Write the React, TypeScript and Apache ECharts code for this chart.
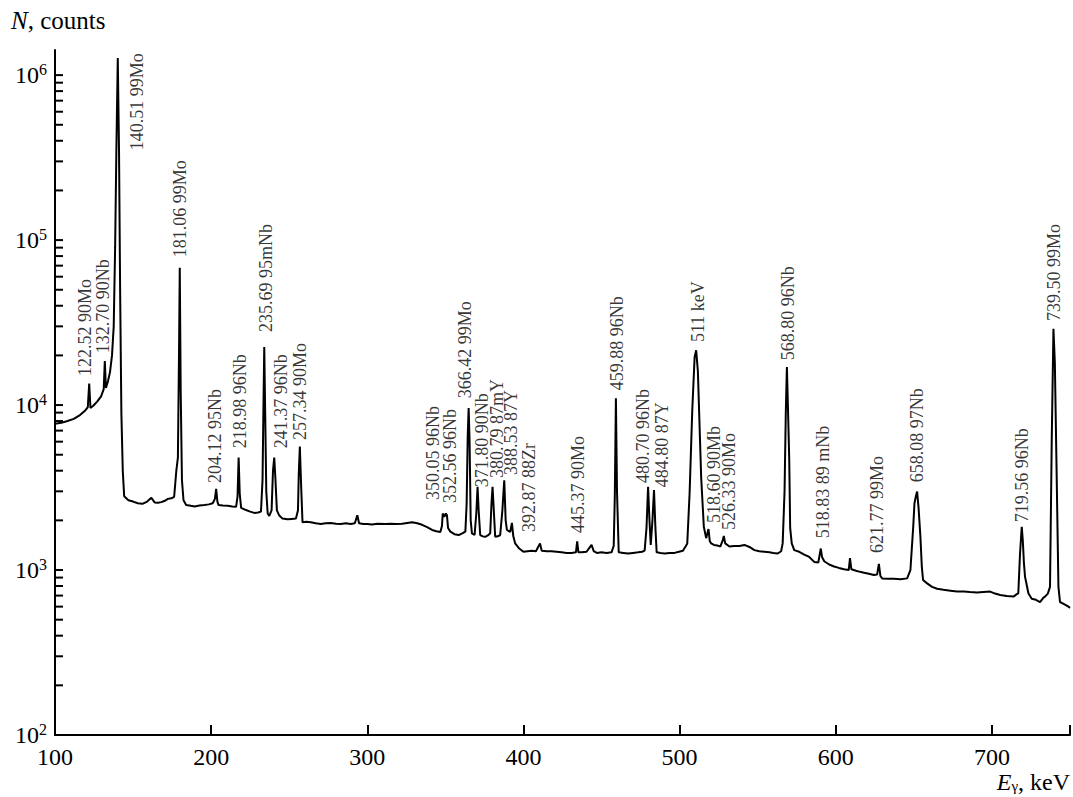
import React, { useEffect, useRef } from "react";
import * as echarts from "echarts";

// Spectrum: [E (keV), N (counts)]
const spectrumLow: [number, number][] = [
  [100, 7700], [104, 7800], [108, 8000], [112, 8250], [116, 8700], [119, 9200], [121.0, 9700],
  [121.9, 13500], [122.7, 9600], [124.5, 9900], [127, 10500], [129.5, 11300], [131.2, 12500],
  [131.9, 18500], [132.6, 12700], [133.8, 13800], [135.2, 15800], [136.5, 20000], [137.6, 30000],
  [138.5, 90000], [139.3, 350000], [140.2, 1270000], [141.0, 350000], [141.7, 50000], [142.5, 9000],
  [143.4, 4000], [144.3, 2800], [147, 2650], [150, 2600], [153, 2540], [156, 2520], [159, 2600],
  [161.7, 2740], [163.8, 2570], [166, 2560], [168, 2580], [170, 2620], [172.3, 2700], [174.5, 2720],
  [176.3, 2780], [177.7, 4000], [178.7, 4800], [179.4, 20000], [179.9, 68000], [180.5, 12000],
  [181.3, 3500], [182.3, 2650], [184, 2480], [187, 2450], [189.4, 2430], [192.5, 2460], [195.7, 2480],
  [198.5, 2500], [201, 2540], [202.4, 2700], [203.2, 3100], [204, 2600], [204.7, 2480], [207.5, 2460],
  [210.6, 2450], [213.5, 2430], [216, 2420], [216.9, 2800], [217.6, 4800], [218.3, 2900], [219.2, 2380],
  [222.3, 2310], [225, 2260], [227.6, 2220], [230, 2230], [231.9, 2260], [232.9, 3500], [233.5, 10000],
  [234.0, 22500], [234.6, 9000], [235.3, 3000], [236.2, 2200], [237.2, 2130], [238.7, 2300],
  [239.6, 4000], [240.4, 4800], [241.2, 3500], [242.1, 2300], [243.5, 2150], [245.7, 2050],
  [248.9, 2030], [251.5, 2040], [254.3, 2050], [255.6, 2300], [256.1, 3800], [256.8, 5600],
  [257.5, 3500], [258.5, 1950], [261, 1960], [263.8, 1950], [267, 1920], [270.2, 1900], [273.3, 1920],
  [276.5, 1930], [280, 1910], [283, 1900], [286.2, 1920], [289.4, 1900], [292, 1920], [293.6, 2150],
  [294.7, 1920], [297.5, 1900], [300, 1900],
];

const spectrumMid: [number, number][] = [
  [303, 1890], [306.5, 1910], [311.7, 1900], [315, 1910], [318.5, 1900], [322.3, 1910], [325.5, 1930],
  [328.7, 1950], [332, 1920], [335.1, 1880], [338.3, 1820], [341.5, 1750], [344.2, 1720], [346.8, 1700],
  [347.8, 1850], [348.3, 2200], [349.3, 2100], [350.3, 2200], [351.0, 2150], [351.7, 1800],
  [353.2, 1710], [355.8, 1650], [358.5, 1630], [360.8, 1670], [362.8, 1710], [363.6, 2500],
  [364.3, 6500], [364.9, 9600], [365.5, 6000], [366.2, 2000], [367.0, 1670], [368.7, 1630],
  [369.8, 2200], [370.6, 3200], [371.3, 2300], [372.3, 1630], [374, 1600], [375.5, 1590],
  [377.2, 1620], [378.7, 1670], [379.5, 2500], [380.2, 3200], [380.9, 2400], [381.9, 1590],
  [383.5, 1600], [385.1, 1630], [386.5, 2300], [387.7, 3500], [388.6, 2000], [389.4, 1750],
  [391.5, 1700], [392.6, 1930], [393.5, 1600], [394.7, 1450], [397.3, 1350], [400, 1290],
  [402.6, 1300], [405.3, 1310], [408, 1300], [410.6, 1450], [411.7, 1310], [415, 1300], [418, 1300],
  [421.2, 1290], [424.4, 1280], [427.6, 1270], [430.8, 1270], [433.6, 1280], [434.4, 1490],
  [435.2, 1280], [437.2, 1280], [440.4, 1290], [443.6, 1420], [445, 1300], [447, 1270], [450, 1280],
  [453.2, 1270], [456.4, 1280], [457.8, 1400], [458.5, 2800], [459.2, 11000], [459.9, 3000],
  [461, 1280], [464, 1270], [467, 1260], [470.2, 1270], [473.4, 1280], [476, 1290], [477.6, 1310],
  [478.8, 1800], [479.8, 3200], [480.7, 2000], [481.5, 1420], [482.6, 2000], [483.6, 3050],
  [484.5, 1800], [485.3, 1280], [487.8, 1270], [490.4, 1260], [493.6, 1270], [496.8, 1270],
  [499.5, 1290], [502.1, 1310], [504, 1400], [504.9, 1450], [506.4, 2930], [508.1, 9300],
  [509.6, 19500], [510.6, 21500], [511.7, 16000], [512.8, 7350], [513.8, 3650], [515.5, 1830],
  [517, 1560], [518.5, 1770], [519.3, 1500], [520.2, 1450], [522, 1420], [524, 1410], [526.1, 1390],
  [527.5, 1500], [528.3, 1610], [529.2, 1450], [531.9, 1390],
];

const spectrumHigh: [number, number][] = [
  [535, 1400], [538.3, 1400], [541.5, 1420], [544.7, 1380], [547.9, 1320], [551, 1300], [554.3, 1290],
  [557.5, 1280], [560, 1270], [562.8, 1260], [565, 1300], [566, 1450], [567.2, 3000], [568.0, 9000],
  [568.7, 17000], [569.4, 9500], [570.2, 4640], [570.8, 1800], [571.8, 1450], [573.4, 1320],
  [576.6, 1290], [579.8, 1240], [583, 1200], [586.2, 1120], [588.8, 1110], [590.4, 1350], [591.2, 1200],
  [592.6, 1130], [595.8, 1080], [598.9, 1050], [602, 1030], [605.3, 1010], [608.3, 1000], [609.1, 1180],
  [610.0, 1010], [613, 990], [615.5, 975], [618.1, 964], [621.2, 950], [624.4, 933], [626.5, 940],
  [627.6, 1090], [628.6, 920], [629.7, 890], [633.5, 885], [637.2, 885], [641.5, 880], [645.7, 890],
  [647.8, 1000], [649.6, 1830], [650.4, 2540], [651.3, 2800], [652.1, 2990], [653.0, 2400],
  [654.2, 1590], [655.1, 1050], [655.9, 870], [658.5, 830], [661.7, 790], [664.9, 770], [669, 760],
  [673.4, 750], [677.7, 740], [681.9, 740], [686, 735], [690.4, 730], [694.6, 735], [698.9, 740],
  [702, 720], [705.3, 705], [709.5, 695], [713.8, 690], [716.9, 725], [718.0, 1260], [719.1, 1830],
  [719.8, 1500], [720.5, 1100], [721.2, 910], [723.4, 720], [725.5, 670], [728.2, 660], [730.8, 640],
  [733.0, 680], [734.0, 690], [735.8, 720], [737.2, 790], [738.3, 6100], [739.4, 29000], [740.3, 18000],
  [741.1, 6100], [742.6, 790], [743.6, 640], [746.5, 620], [749, 600], [750, 590],
];

// Peak annotations: text, anchor energy, anchor counts (start of the vertical text)
const peakLabels = [
  "122.52 90Mo", "132.70 90Nb", "140.51 99Mo", "181.06 99Mo", "204.12 95Nb", "218.98 96Nb",
  "235.69 95mNb", "241.37 96Nb", "257.34 90Mo", "350.05 96Nb", "352.56 96Nb", "366.42 99Mo",
  "371.80 90Nb", "380.79 87mY", "388.53 87Y", "392.87 88Zr", "445.37 90Mo", "459.88 96Nb",
  "480.70 96Nb", "484.80 87Y", "511 keV", "518.60 90Mb", "526.33 90Mo", "568.80 96Nb",
  "518.83 89 mNb", "621.77 99Mo", "658.08 97Nb", "719.56 96Nb", "739.50 99Mo",
];
const labelEnergy = [
  119.1, 131.0, 152.3, 179.8, 202.4, 218.4, 235.0, 244.6, 256.7, 342.2, 353.1, 362.7, 373.5, 383.1,
  392.0, 403.8, 435.1, 459.7, 476.6, 489.0, 511.7, 522.2, 531.8, 569.1, 591.8, 626.3, 651.8, 719.5,
  739.6,
];
const labelCounts = [
  15000, 20600, 351000, 78800, 3370, 5480, 27700, 5480, 6130, 2660, 2550, 11000, 3180, 3610, 3770,
  1700, 1675, 12300, 3370, 3180, 24100, 1930, 1750, 18700, 1560, 1270, 3410, 1950, 32300,
];

// Axes
const xMin = 100;
const xMax = 750;
const xStep = 100;
const yMin = 100;
const yMax = 1.42e6;
const yTickValues = [
  200, 300, 400, 500, 600, 700, 800, 900,
  1000, 2000, 3000, 4000, 5000, 6000, 7000, 8000, 9000,
  10000, 20000, 30000, 40000, 50000, 60000, 70000, 80000, 90000,
  100000, 200000, 300000, 400000, 500000, 600000, 700000, 800000, 900000,
  1000000,
];

const FONT = "'Liberation Serif', serif";

export default function App() {
  const ref = useRef<HTMLDivElement>(null);

  useEffect(() => {
    if (!ref.current) return;
    const chart = echarts.init(ref.current, null, { renderer: "svg" });
    const spectrum = [...spectrumLow, ...spectrumMid, ...spectrumHigh];
    const labelData = peakLabels.map((t, i) => [labelEnergy[i], labelCounts[i], t]);

    chart.setOption({
      animation: false,
      backgroundColor: "#fff",
      textStyle: { fontFamily: FONT, color: "#000" },
      grid: { left: 55, top: 50, width: 1018, height: 685 },
      xAxis: {
        type: "value",
        min: xMin,
        max: xMax,
        interval: xStep,
        axisLine: { show: true, lineStyle: { color: "#000", width: 2 } },
        axisTick: { show: true, inside: true, length: 10, lineStyle: { color: "#000", width: 2 } },
        axisLabel: {
          color: "#000",
          fontSize: 24,
          fontFamily: FONT,
          margin: 10,
          formatter: (v: number) => (Math.abs(v % 100) < 1e-9 ? String(v) : ""),
        },
        splitLine: { show: false },
      },
      yAxis: {
        type: "log",
        logBase: 10,
        min: yMin,
        max: yMax,
        axisLine: { show: true, lineStyle: { color: "#000", width: 2 } },
        axisTick: { show: false },
        minorTick: { show: false },
        splitLine: { show: false },
        axisLabel: {
          margin: 8,
          formatter: (v: number) => {
            const l = Math.log10(v);
            const k = Math.round(l);
            if (Math.abs(l - k) > 1e-6) return "";
            return `{b|10}{s|${k}}`;
          },
          rich: {
            b: { fontSize: 24, fontFamily: FONT, color: "#000" },
            s: { fontSize: 16, fontFamily: FONT, color: "#000", padding: [0, 0, 12, 0] },
          },
        },
      },
      graphic: [
        {
          type: "text",
          left: 11,
          top: 8,
          style: {
            text: "{i|N}{r|, counts}",
            fill: "#000",
            rich: {
              i: { fontSize: 25, fontFamily: FONT, fontStyle: "italic", color: "#000" },
              r: { fontSize: 25, fontFamily: FONT, color: "#000" },
            },
          },
        },
        {
          type: "text",
          right: 3,
          top: 770,
          style: {
            text: "{i|E}{g|γ}{r|, keV}",
            fill: "#000",
            rich: {
              i: { fontSize: 24, fontFamily: FONT, fontStyle: "italic", color: "#000" },
              g: { fontSize: 15, fontFamily: FONT, color: "#000", padding: [8, 0, 0, 0] },
              r: { fontSize: 24, fontFamily: FONT, color: "#000" },
            },
          },
        },
      ],
      series: [
        {
          type: "line",
          data: spectrum,
          showSymbol: false,
          symbol: "none",
          lineStyle: { color: "#000", width: 2 },
          silent: true,
          z: 3,
        },
        {
          type: "scatter",
          data: labelData,
          symbolSize: 1,
          itemStyle: { color: "rgba(0,0,0,0)" },
          silent: true,
          label: {
            show: true,
            position: "inside",
            rotate: 90,
            align: "left",
            verticalAlign: "middle",
            fontSize: 18,
            fontFamily: FONT,
            color: "#000",
            formatter: (p: any) => p.data[2],
          },
          z: 4,
        },
        {
          type: "custom",
          data: yTickValues.map((v) => [xMin, v]),
          silent: true,
          clip: false,
          renderItem: (_params: any, api: any) => {
            const p = api.coord([api.value(0), api.value(1)]);
            return {
              type: "line",
              shape: { x1: p[0], y1: p[1], x2: p[0] + 8, y2: p[1] },
              style: { stroke: "#000", lineWidth: 2 },
            };
          },
          z: 5,
        },
      ],
    });

    return () => chart.dispose();
  }, []);

  return (
    <div
      ref={ref}
      style={{ position: "absolute", left: 0, top: 0, width: 1073, height: 797, background: "#fff" }}
    />
  );
}
